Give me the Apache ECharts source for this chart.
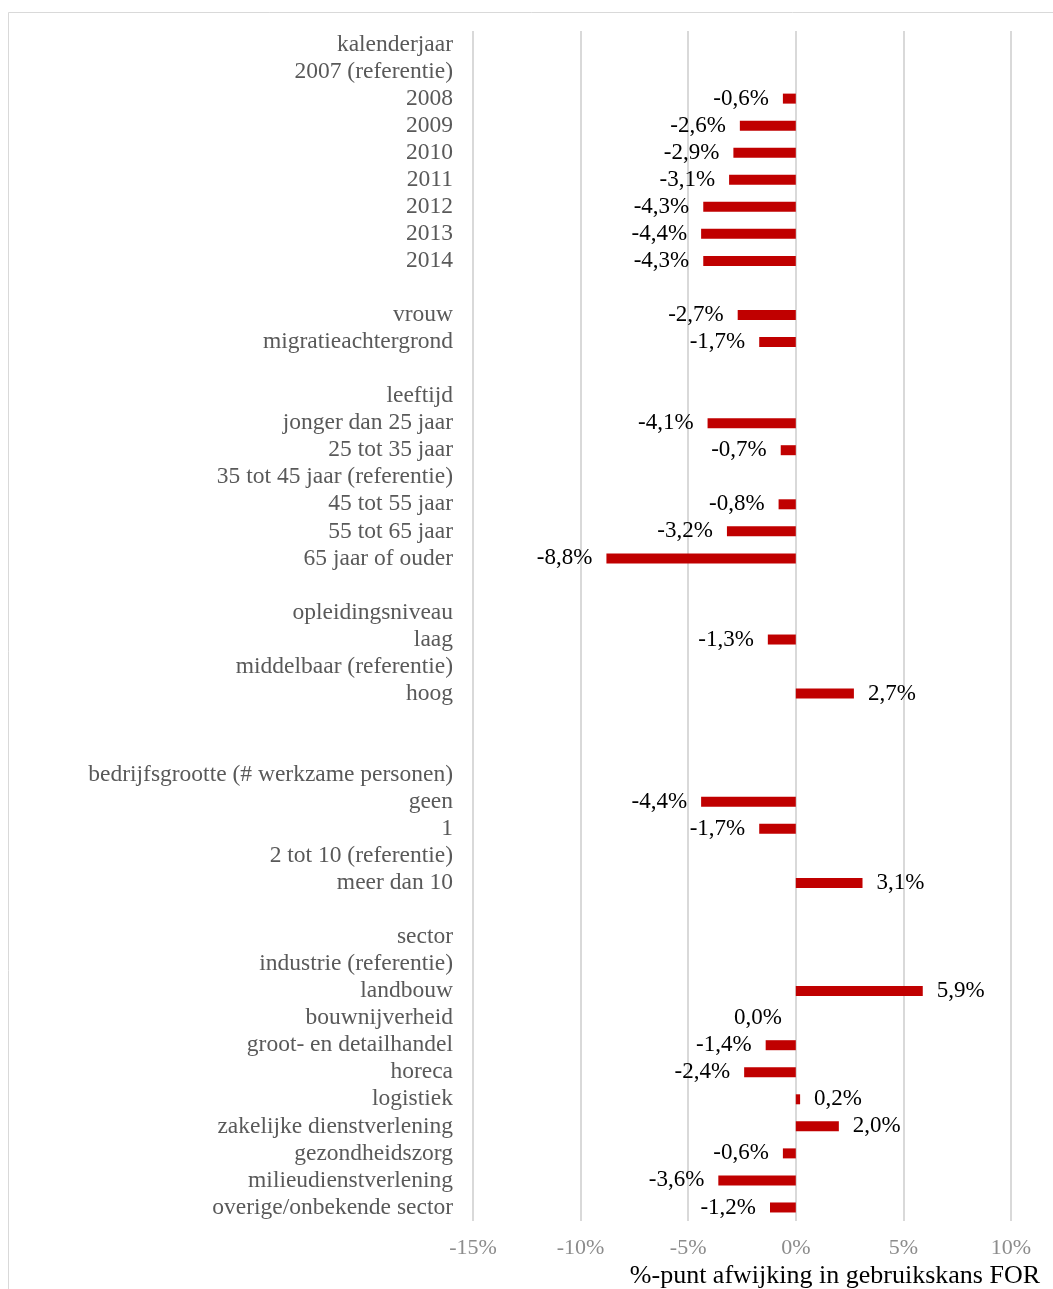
<!DOCTYPE html>
<html>
<head>
<meta charset="utf-8">
<script src="https://cdn.jsdelivr.net/npm/echarts@6/dist/echarts.min.js"></script>
<style>
  html, body { margin: 0; padding: 0; background: #fff; }
  #chart { width: 1053px; height: 1289px; }
</style>
</head>
<body>
<div id="chart"></div>
<script>
// categorieen, van boven naar beneden (lege strings = witregels)
var categories = [
  'kalenderjaar', '2007 (referentie)', '2008', '2009', '2010', '2011', '2012', '2013', '2014',
  ' ',
  'vrouw', 'migratieachtergrond',
  '  ',
  'leeftijd', 'jonger dan 25 jaar', '25 tot 35 jaar', '35 tot 45 jaar (referentie)',
  '45 tot 55 jaar', '55 tot 65 jaar', '65 jaar of ouder',
  '   ',
  'opleidingsniveau', 'laag', 'middelbaar (referentie)', 'hoog',
  '    ', '     ',
  'bedrijfsgrootte (# werkzame personen)', 'geen', '1', '2 tot 10 (referentie)', 'meer dan 10',
  '      ',
  'sector', 'industrie (referentie)', 'landbouw', 'bouwnijverheid', 'groot- en detailhandel',
  'horeca', 'logistiek', 'zakelijke dienstverlening', 'gezondheidszorg',
  'milieudienstverlening', 'overige/onbekende sector'
];

// afwijking in %-punt (null = geen balk)
var values = [
  null, null, -0.6, -2.6, -2.9, -3.1, -4.3, -4.4, -4.3,
  null,
  -2.7, -1.7,
  null,
  null, -4.1, -0.7, null, -0.8, -3.2, -8.8,
  null,
  null, -1.3, null, 2.7,
  null, null,
  null, -4.4, -1.7, null, 3.1,
  null,
  null, null, 5.9, 0.0, -1.4, -2.4, 0.2, 2.0, -0.6, -3.6, -1.2
];

var xTicks = [-15, -10, -5, 0, 5, 10];

var serif = '"Liberation Serif", "DejaVu Serif", serif';

var seriesData = values.map(function (v) {
  if (v === null) return '-';
  return {
    value: v,
    label: { position: v > 0 ? 'right' : 'left' }
  };
});

var chart = echarts.init(document.getElementById('chart'));
chart.setOption({
  backgroundColor: '#fff',
  animation: false,
  title: {
    text: '%-punt afwijking in gebruikskans FOR',
    right: 8,
    bottom: -5,
    textStyle: { fontFamily: serif, fontSize: 26, fontWeight: 'normal', color: '#000' }
  },
  graphic: [{
    type: 'rect',
    shape: { x: 8.5, y: 12.5, width: 1060, height: 1300 },
    style: { fill: 'none', stroke: '#d9d9d9', lineWidth: 1 },
    silent: true
  }],
  grid: {
    left: 473,
    right: 42,
    top: 31,
    bottom: 68,
    containLabel: false
  },
  xAxis: {
    type: 'value',
    min: xTicks[0],
    max: xTicks[xTicks.length - 1],
    interval: 5,
    axisLine: { show: false },
    axisTick: { show: false },
    splitLine: { show: true, lineStyle: { color: '#d9d9d9', width: 2 } },
    axisLabel: {
      margin: 16,
      fontFamily: serif,
      fontSize: 22,
      color: '#8c8c8c',
      formatter: function (v) { return v + '%'; }
    }
  },
  yAxis: {
    type: 'category',
    inverse: true,
    data: categories,
    axisLine: { show: false },
    axisTick: { show: false },
    splitLine: { show: false },
    axisLabel: {
      margin: 20,
      interval: 0,
      fontFamily: serif,
      fontSize: 23.5,
      color: '#595959'
    }
  },
  series: [{
    type: 'bar',
    data: seriesData,
    barWidth: 10,
    itemStyle: { color: '#c00000' },
    label: {
      show: true,
      distance: 14,
      fontFamily: serif,
      fontSize: 23,
      color: '#000',
      formatter: function (p) {
        return p.value.toFixed(1).replace('.', ',') + '%';
      }
    }
  }]
});
</script>
</body>
</html>
